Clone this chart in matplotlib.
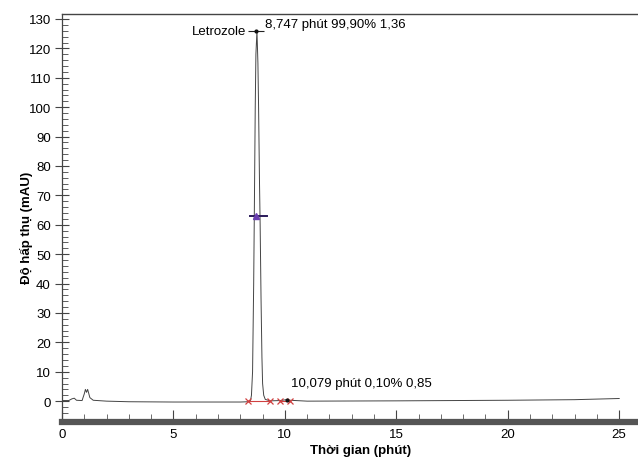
import matplotlib
matplotlib.use('Agg')
import matplotlib.pyplot as plt
from matplotlib.ticker import MultipleLocator

plt.rcParams['font.family'] = ['Liberation Sans', 'DejaVu Sans']

# chromatogram trace (time in min, absorbance in mAU)
time = [0.0, 0.3, 0.45, 0.55, 0.65, 0.9, 1.0, 1.05, 1.1, 1.15, 1.25, 1.4, 2.0, 3.0,
        5.0, 8.0, 8.35, 8.46, 8.50, 8.55, 8.60, 8.63, 8.67, 8.70, 8.747, 8.79, 8.82,
        8.86, 8.89, 8.93, 8.97, 9.00, 9.05, 9.12, 9.34, 9.78, 10.079, 10.23, 11.0,
        15.0, 20.0, 23.0, 24.5, 25.0]
signal = [0.2, 0.2, 0.8, 1.0, 0.3, 0.2, 2.5, 4.0, 3.0, 4.0, 1.2, 0.3, 0.0, -0.2,
          -0.3, -0.3, -0.2, 0.3, 2.0, 10.0, 40.0, 65.0, 100.0, 118.0, 126.0, 115.0, 100.0,
          75.0, 60.0, 35.0, 15.0, 6.0, 2.0, 0.6, 0.1, 0.2, 0.5, 0.3, 0.0,
          0.1, 0.3, 0.5, 0.8, 0.9]

# integration marks
peak_bounds = [(8.35, 9.34), (9.78, 10.23)]
peak_top = (8.72, 126.0)
half_height = 63.0
half_span = (8.44, 9.2)
minor_peak = (10.079, 0.5)

fig = plt.figure(figsize=(6.38, 4.6), dpi=100)
ax = fig.add_axes([0.0972, 0.0804, 0.903, 0.887])

ax.plot(time, signal, color='#444444', linewidth=0.7)

for a, b in peak_bounds:
    ax.plot([a, b], [0, 0], color='#d04040', linewidth=0.8)
    ax.plot([a, b], [0, 0], linestyle='none', marker='x', color='#d04040',
            markersize=5, markeredgewidth=0.9)

ax.plot(half_span, [half_height, half_height], color='#2a1a5a', linewidth=1.4)
ax.plot(peak_top[0], half_height, marker='^', color='#6a3fb0', markersize=4)
ax.plot(peak_top[0], peak_top[1], marker='_', color='#222222', markersize=12,
        markeredgewidth=0.8)
ax.plot(peak_top[0], peak_top[1], marker='o', color='#111111', markersize=2)
ax.plot(minor_peak[0], minor_peak[1], marker='o', color='#111111', markersize=2)

ax.text(8.25, 126.0, 'Letrozole', ha='right', va='center', fontsize=9.5)
ax.text(9.11, 128.3, '8,747 phút 99,90% 1,36', ha='left', va='center', fontsize=9.5)
ax.text(10.28, 6.1, '10,079 phút 0,10% 0,85', ha='left', va='center', fontsize=9.5)

ax.set_xlim(0, 25.85)
ax.set_ylim(-7.1, 131.7)
ax.xaxis.set_major_locator(MultipleLocator(5))
ax.xaxis.set_minor_locator(MultipleLocator(1))
ax.yaxis.set_major_locator(MultipleLocator(10))
ax.yaxis.set_minor_locator(MultipleLocator(2))

ax.spines['right'].set_visible(False)
ax.spines['top'].set_color('#444444')
ax.spines['top'].set_linewidth(1.0)
ax.spines['left'].set_color('#444444')
ax.spines['left'].set_linewidth(0.9)
ax.spines['bottom'].set_color('#555555')
ax.spines['bottom'].set_linewidth(4.5)

ax.tick_params(axis='y', which='major', direction='inout', length=10, width=0.8,
               color='#444444', labelsize=9.5, pad=3)
ax.tick_params(axis='y', which='minor', direction='in', length=4.3, width=0.6,
               color='#444444')
ax.tick_params(axis='x', which='major', direction='in', length=9, width=0.8,
               color='#444444', labelsize=9.5, pad=4)
ax.tick_params(axis='x', which='minor', direction='in', length=6, width=0.6,
               color='#555555')

ax.set_xlabel('Thời gian (phút)', fontsize=9.5, fontweight='bold')
ax.set_ylabel('Độ hấp thụ (mAU)', fontsize=9.5, fontweight='bold')
ax.xaxis.set_label_coords(0.519, -0.055)
ax.yaxis.set_label_coords(-0.050, 0.478)

fig.savefig('out.png', dpi=100, facecolor='white')
